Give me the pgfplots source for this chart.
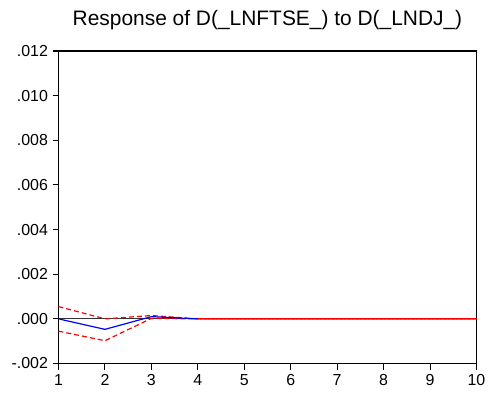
\documentclass[border=0pt]{standalone}
\usepackage{pgfplots}
\pgfplotsset{compat=1.18}
\usepackage{fontspec}
\setmainfont{Liberation Sans}
\begin{document}
\begin{tikzpicture}[x=1bp,y=1bp]
\useasboundingbox (0,0) rectangle (488,394);
\begin{axis}[
  at={(58.5bp,30.5bp)}, anchor=south west,
  scale only axis, width=418bp, height=312.5bp,
  xmin=1, xmax=10, ymin=-0.002, ymax=0.012,
  xtick={1,2,3,4,5,6,7,8,9,10},
  ytick={-0.002,0,0.002,0.004,0.006,0.008,0.010,0.012},
  yticklabels={-.002,.000,.002,.004,.006,.008,.010,.012},
  scaled y ticks=false,
  xtick pos=bottom, ytick pos=left,
  xtick align=outside, ytick align=outside,
  tickwidth=6bp,
  axis line style={line width=1.2pt},
  every tick/.style={black, line width=1.1pt},
  /pgf/number format/assume math mode=true,
  every tick label/.append style={font=\fontsize{16}{18}\selectfont},
  xticklabel style={yshift=-1.5bp},
  yticklabel style={xshift=-1bp},
  clip=false,
]
\addplot[black!80, line width=0.8pt, forget plot] coordinates {(1,0) (10,0)};
\addplot[red, dash pattern=on 5bp off 3bp, line width=1.2pt] coordinates {(1,0.00055) (2,0.0) (3,0.00015) (4,0) (5,0) (6,0) (7,0) (8,0) (9,0) (10,0)};
\addplot[red, dash pattern=on 5bp off 3bp, line width=1.2pt] coordinates {(1,-0.00055) (2,-0.00098) (3,0.00002) (4,0) (5,0) (6,0) (7,0) (8,0) (9,0) (10,0)};
\addplot[blue, line width=1.2pt] coordinates {(1,0) (2,-0.00047) (3,0.0001) (4,0) (5,0) (6,0) (7,0) (8,0) (9,0) (10,0)};
\addplot[red, line width=1.2pt] coordinates {(4,0) (10,0)};
\end{axis}
\node[anchor=base, font=\fontsize{21}{23}\selectfont] at (267.5,369) {Response of D(\_LNFTSE\_) to D(\_LNDJ\_)};
\end{tikzpicture}
\end{document}
